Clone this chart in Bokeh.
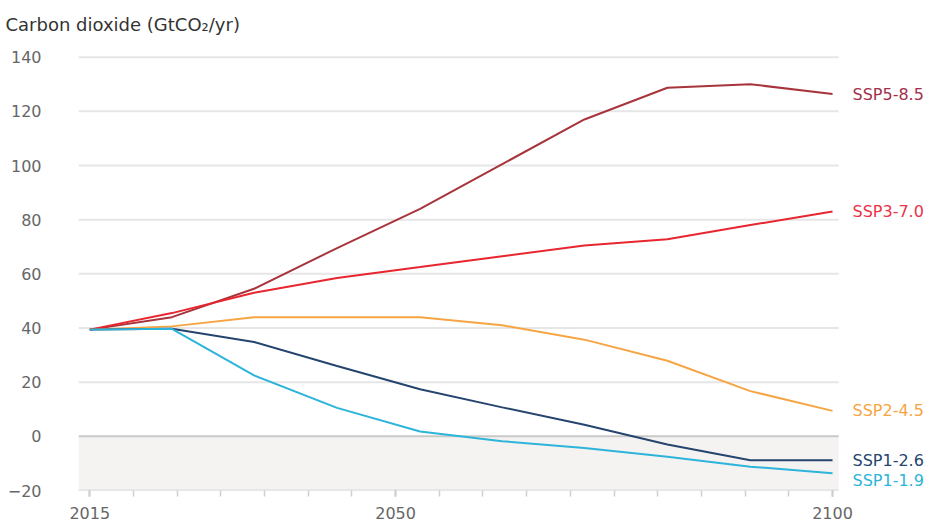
from bokeh.plotting import figure
from bokeh.models import FixedTicker, Range1d, ColumnDataSource
from bokeh.core.properties import value
from bokeh.embed import file_html
from bokeh.resources import INLINE

# ---- data ----
years = [2015, 2024.4, 2033.8, 2043.3, 2052.8, 2062.2, 2071.6, 2081.1, 2090.6, 2100]
series_names = ["SSP5-8.5", "SSP3-7.0", "SSP2-4.5", "SSP1-2.6", "SSP1-1.9"]
ssp585 = [39.4, 44.0, 54.5, 69.5, 84.0, 100.5, 117.0, 128.7, 130.0, 126.4]
ssp370 = [39.4, 45.5, 53.0, 58.5, 62.5, 66.5, 70.5, 72.8, 78.0, 83.0]
ssp245 = [39.4, 40.6, 44.0, 44.0, 44.0, 41.0, 35.7, 27.9, 16.7, 9.4]
ssp126 = [39.4, 39.7, 34.8, 26.0, 17.4, 10.7, 4.3, -3.0, -8.8, -8.8]
ssp119 = [39.4, 39.7, 22.5, 10.5, 1.8, -1.8, -4.3, -7.5, -11.2, -13.6]
y_ticks = [-20, 0, 20, 40, 60, 80, 100, 120, 140]
x_label_ticks = [2015, 2050, 2100]
x_minor_ticks = [2015, 2020, 2025, 2030, 2035, 2040, 2045, 2050, 2055, 2060,
                 2065, 2070, 2075, 2080, 2085, 2090, 2095, 2100]
title_text = "Carbon dioxide (GtCO\u2082/yr)"

# ---- styles ----
colors = ["#a8343c", "#e8262f", "#f7a544", "#25446e", "#2db4da"]
label_colors = ["#a3304a", "#ea3348", "#f7a544", "#25446e", "#2db4da"]
label_dy = [0, 0, 0, 0, 7]
FONT = "DejaVu Sans"

x0, x1 = 2013.71, 2111.67
grid_end = 2100.7

p = figure(width=934, height=524, output_backend="svg", toolbar_location=None,
           x_range=Range1d(x0, x1), y_range=Range1d(-20, 143.2),
           min_border_left=78, min_border_right=0, min_border_top=48,
           min_border_bottom=34)
p.outline_line_color = None
p.background_fill_color = "white"
p.xgrid.visible = False
p.ygrid.visible = False

# title
p.title.text = title_text
p.title.align = "left"
p.title.vertical_align = "top"
p.title.offset = -73
p.title.text_font = FONT
p.title.text_font_size = "18px"
p.title.text_font_style = "normal"
p.title.text_color = "#333333"
p.title.standoff = 24

# negative shading and grid
p.quad(left=[x0], right=[grid_end], bottom=[y_ticks[0]], top=[0],
       fill_color="#f4f3f1", line_color=None)
grid_vals = [v for v in y_ticks if v != 0]
p.segment(x0=[x0] * len(grid_vals), x1=[grid_end] * len(grid_vals),
          y0=grid_vals, y1=grid_vals, line_color="#e6e6e6", line_width=2)
p.segment(x0=[x0], x1=[grid_end], y0=[0], y1=[0], line_color="#c9c9c9", line_width=2)
p.segment(x0=[x0], x1=[grid_end], y0=[y_ticks[0]], y1=[y_ticks[0]],
          line_color="#dcdcdc", line_width=1.5)

# lines
all_series = [ssp585, ssp370, ssp245, ssp126, ssp119]
for name, vals, c in zip(series_names, all_series, colors):
    p.line(years, vals, line_color=c, line_width=2)

# end labels
src = ColumnDataSource(dict(
    x=[years[-1]] * len(series_names),
    y=[s[-1] for s in all_series],
    text=series_names,
    color=label_colors,
    dy=label_dy,
))
p.text(x="x", y="y", text="text", text_color="color", source=src,
       x_offset=20, y_offset="dy", text_baseline="middle", text_align="left",
       text_font=value(FONT), text_font_size="16px")

# axes
p.xaxis.ticker = FixedTicker(ticks=x_label_ticks, minor_ticks=x_minor_ticks)
p.xaxis.axis_line_color = None
p.xaxis.major_tick_line_color = "#9a9a9a"
p.xaxis.minor_tick_line_color = "#cfcfcf"
p.xaxis.major_tick_in = 0
p.xaxis.major_tick_out = 6
p.xaxis.minor_tick_in = 0
p.xaxis.minor_tick_out = 6
p.xaxis.major_tick_line_width = 1.5
p.xaxis.minor_tick_line_width = 1.5
p.xaxis.major_label_standoff = 10
p.xaxis.major_label_text_font = FONT
p.xaxis.major_label_text_font_size = "16px"
p.xaxis.major_label_text_color = "#666666"

p.yaxis.ticker = FixedTicker(ticks=y_ticks)
p.yaxis.axis_line_color = None
p.yaxis.major_tick_line_color = None
p.yaxis.minor_tick_line_color = None
p.yaxis.major_label_standoff = 31
p.yaxis.major_label_text_font = FONT
p.yaxis.major_label_text_font_size = "16px"
p.yaxis.major_label_text_color = "#666666"

open("out.html", "w").write(file_html(p, INLINE))
